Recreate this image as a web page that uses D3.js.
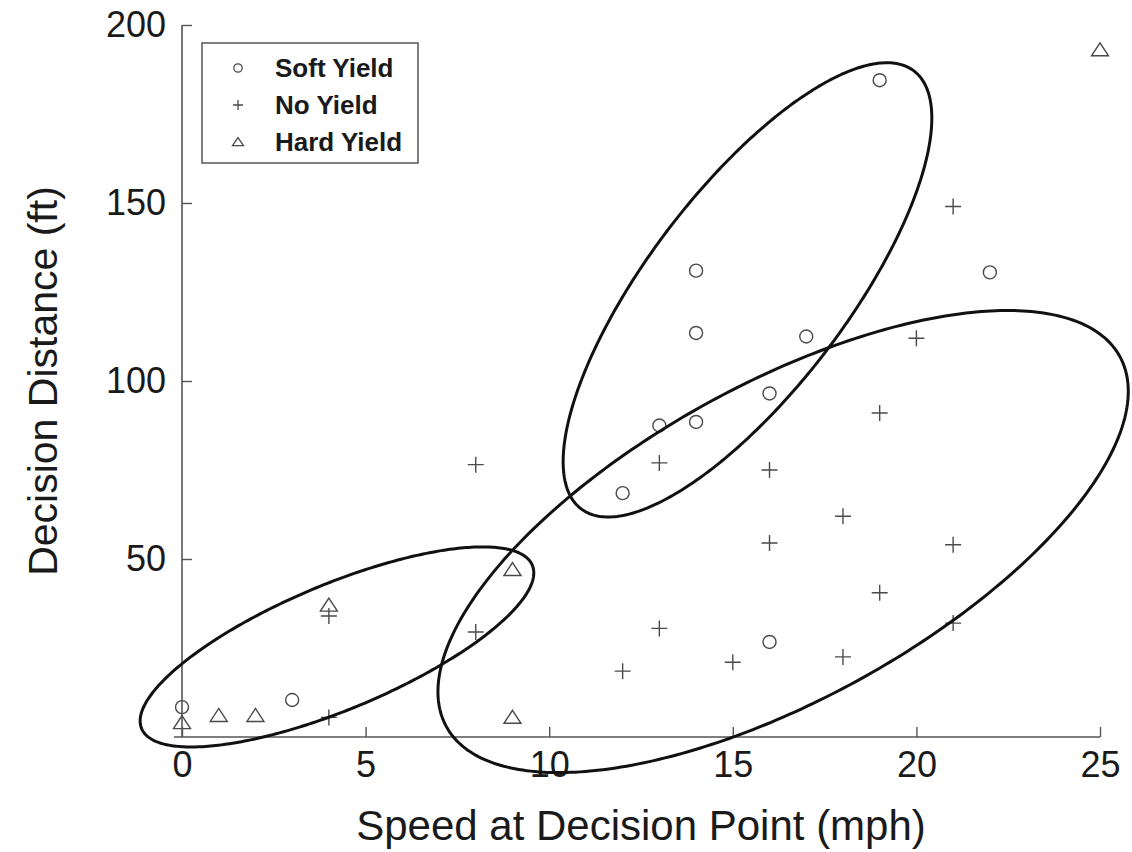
<!DOCTYPE html>
<html>
<head>
<meta charset="utf-8">
<script src="https://cdn.jsdelivr.net/npm/d3@7"></script>
<style>
  html, body { margin: 0; padding: 0; background: #fff; }
  svg { display: block; font-family: "Liberation Sans", Arial, Helvetica, sans-serif; }
</style>
</head>
<body>
<svg id="chart" width="1132" height="852"></svg>
<script>
// Speed (mph) and decision distance (ft) for each driver response type
const softYield = [[0, 8.4], [3, 10.4], [12, 68.5], [13, 87.5], [14, 88.5], [14, 113.5], [14, 131],
                   [16, 96.5], [16, 26.7], [17, 112.5], [19, 184.5], [22, 130.5]];
const noYield = [[4, 5.5], [4, 34], [8, 29.5], [8, 76.5], [12, 18.5], [13, 30.5], [13, 77], [15, 21],
                 [16, 54.5], [16, 75], [18, 22.5], [18, 62], [19, 40.5], [19, 91], [20, 112],
                 [21, 32], [21, 54], [21, 149]];
const hardYield = [[0, 4], [1, 6], [2, 6], [4, 37], [9, 5.5], [9, 47], [25, 193]];

// Group ellipses: centre, half-extent in x and y, and correlation
const ellipseHard = { cx: 4.22, cy: 25.3, sx: 5.36, sy: 28.1, rho: 0.74 };
const ellipseSoft = { cx: 15.40, cy: 125.6, sx: 5.02, sy: 63.8, rho: 0.756 };
const ellipseNo = { cx: 16.37, cy: 54.9, sx: 9.40, sy: 64.9, rho: 0.65 };

const xTicks = [0, 5, 10, 15, 20, 25];
const yTicks = [50, 100, 150, 200];
const legendLabels = ["Soft Yield", "No Yield", "Hard Yield"];

const svg = d3.select("#chart");
const x = d3.scaleLinear().domain([0, 25]).range([182, 1100]);
const y = d3.scaleLinear().domain([0, 200]).range([737, 25]);

const ink = "#1a1a1a";
const markInk = "#4a4a4a";

// Axes with inward ticks
const xAxis = svg.append("g").attr("transform", `translate(0,${y(0)})`)
  .call(d3.axisBottom(x).tickValues(xTicks).tickSize(-10).tickSizeOuter(0).tickPadding(14));
const yAxis = svg.append("g").attr("transform", `translate(${x(0)},0)`)
  .call(d3.axisLeft(y).tickValues(yTicks).tickSize(-10).tickSizeOuter(0).tickPadding(16));

[xAxis, yAxis].forEach(g => {
  g.select(".domain").attr("stroke", "#555").attr("stroke-width", 1.6);
  g.selectAll(".tick line").attr("stroke", "#555").attr("stroke-width", 1.4);
  g.selectAll(".tick text").attr("fill", ink).attr("font-size", 36)
    .attr("font-family", "'Liberation Sans', Arial, sans-serif");
});
xAxis.select(".domain").attr("d", `M${x(0) - 8},0H${x(25)}`);
xAxis.selectAll(".tick text").attr("dy", "0.71em");
yAxis.select(".domain").attr("d", `M0,${y(0)}V${y(200)}`);

// Axis titles
svg.append("text")
  .attr("x", (x(0) + x(25)) / 2).attr("y", 840)
  .attr("text-anchor", "middle").attr("font-size", 42).attr("fill", ink)
  .text("Speed at Decision Point (mph)");
svg.append("text")
  .attr("transform", `translate(57,${(y(0) + y(200)) / 2}) rotate(-90)`)
  .attr("text-anchor", "middle").attr("font-size", 41).attr("fill", ink)
  .text("Decision Distance (ft)");

// Marker shapes
const plusPath = s => `M${-s},0H${s}M0,${-s}V${s}`;
const triPath = (w, h) => `M0,${-h * 0.55}L${w},${h * 0.45}L${-w},${h * 0.45}Z`;

const marks = svg.append("g").attr("fill", "none").attr("stroke", markInk).attr("stroke-width", 1.4);

marks.selectAll("circle.soft").data(softYield).join("circle")
  .attr("class", "soft")
  .attr("cx", d => x(d[0])).attr("cy", d => y(d[1])).attr("r", 6.5);

marks.selectAll("path.no").data(noYield).join("path")
  .attr("class", "no")
  .attr("transform", d => `translate(${x(d[0])},${y(d[1])})`)
  .attr("d", plusPath(8));

marks.selectAll("path.hard").data(hardYield).join("path")
  .attr("class", "hard")
  .attr("transform", d => `translate(${x(d[0])},${y(d[1])})`)
  .attr("d", triPath(8.5, 13));

// Ellipses traced in data space and mapped through the scales
const ellipsePoints = e => d3.range(0, 2 * Math.PI, Math.PI / 180).map(t => [
  x(e.cx + e.sx * Math.cos(t)),
  y(e.cy + e.sy * (e.rho * Math.cos(t) + Math.sqrt(1 - e.rho * e.rho) * Math.sin(t)))
]);
const ellipseLine = d3.line().curve(d3.curveLinearClosed);
svg.append("g").selectAll("path").data([ellipseHard, ellipseSoft, ellipseNo]).join("path")
  .attr("d", e => ellipseLine(ellipsePoints(e)))
  .attr("fill", "none").attr("stroke", "#111").attr("stroke-width", 3);

// Legend
const legend = svg.append("g");
legend.append("rect").attr("x", 202).attr("y", 43).attr("width", 216).attr("height", 120)
  .attr("fill", "#fff").attr("stroke", "#555").attr("stroke-width", 1.5);
const rows = legend.selectAll("g.row").data(legendLabels).join("g")
  .attr("class", "row")
  .attr("transform", (d, i) => `translate(238,${68 + i * 37})`);
rows.append("text").attr("x", 37).attr("dy", "0.36em")
  .attr("font-size", 26).attr("font-weight", "bold").attr("fill", ink)
  .text(d => d);
rows.filter((d, i) => i === 0).append("circle").attr("r", 4.2)
  .attr("fill", "none").attr("stroke", markInk).attr("stroke-width", 1.3);
rows.filter((d, i) => i === 1).append("path").attr("d", plusPath(5))
  .attr("fill", "none").attr("stroke", markInk).attr("stroke-width", 1.3);
rows.filter((d, i) => i === 2).append("path").attr("d", triPath(5.5, 8))
  .attr("fill", "none").attr("stroke", markInk).attr("stroke-width", 1.3);
</script>
</body>
</html>
